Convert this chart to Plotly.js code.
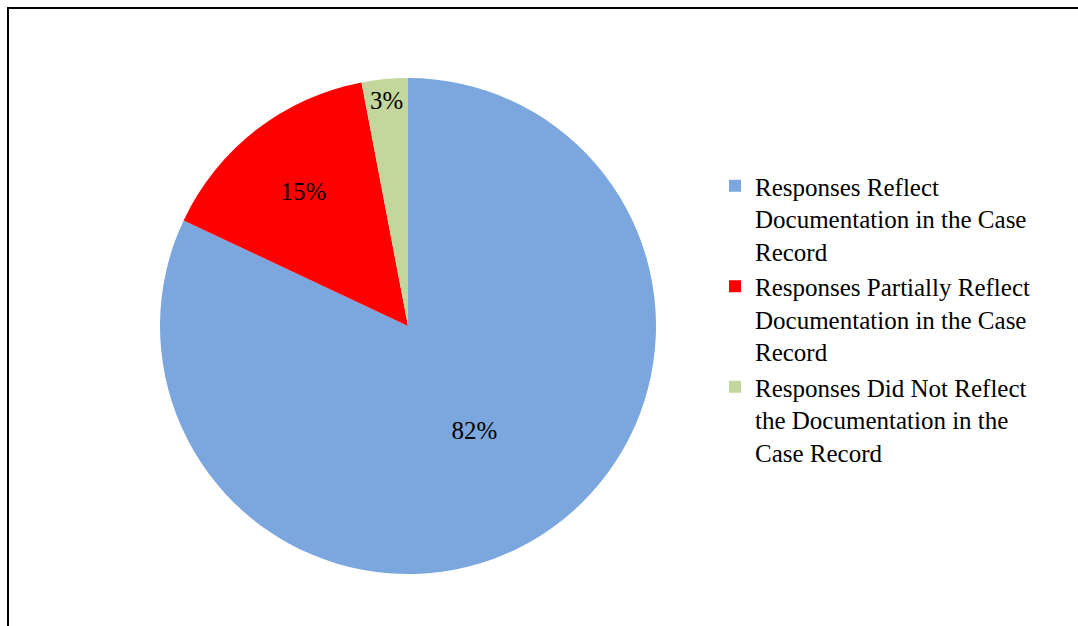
<!DOCTYPE html>
<html>
<head>
<meta charset="utf-8">
<script src="https://cdn.plot.ly/plotly-3.0.1.min.js"></script>
<style>html,body{margin:0;padding:0;background:#fff;}#chart{width:1078px;height:626px;}</style>
</head>
<body>
<div id="chart"></div>
<script>
const categories = [
  "Responses Reflect<br>Documentation in the Case<br>Record",
  "Responses Partially Reflect<br>Documentation in the Case<br>Record",
  "Responses Did Not Reflect<br>the Documentation in the<br>Case Record"
];
const values = [82, 15, 3];
const colors = ["#7BA7DE", "#FF0000", "#C3D69B"];

const W = 1078, H = 626;
const cx = 408, cy = 326, R = 248;

const trace = {
  type: "pie",
  labels: categories,
  values: values,
  sort: false,
  direction: "clockwise",
  rotation: 0,
  marker: {colors: colors, line: {color: "#ffffff", width: 0}},
  textinfo: "percent",
  textposition: "inside",
  insidetextorientation: "horizontal",
  textfont: {family: "Liberation Serif", size: 25, color: "#000000"},
  domain: {x: [(cx - R) / W, (cx + R) / W], y: [1 - (cy + R) / H, 1 - (cy - R) / H]},
  hoverinfo: "label+percent"
};

const layout = {
  width: W, height: H,
  margin: {l: 0, r: 0, t: 0, b: 0},
  paper_bgcolor: "#ffffff",
  showlegend: true,
  legend: {
    x: 715 / W, y: 1 - 163 / H, xanchor: "left", yanchor: "top",
    font: {family: "Liberation Serif", size: 25, color: "#000000"},
    valign: "top",
    itemwidth: 30,
    tracegroupgap: 0,
    bgcolor: "rgba(0,0,0,0)"
  },
  shapes: [
    {type: "line", xref: "paper", yref: "paper", x0: 7 / W, x1: 1, y0: 1 - 8 / H, y1: 1 - 8 / H, line: {color: "#000", width: 2}},
    {type: "line", xref: "paper", yref: "paper", x0: 8 / W, x1: 8 / W, y0: 1 - 8 / H, y1: 0, line: {color: "#000", width: 2}}
  ]
};

Plotly.newPlot("chart", [trace], layout, {displayModeBar: false, staticPlot: true});
</script>
</body>
</html>
